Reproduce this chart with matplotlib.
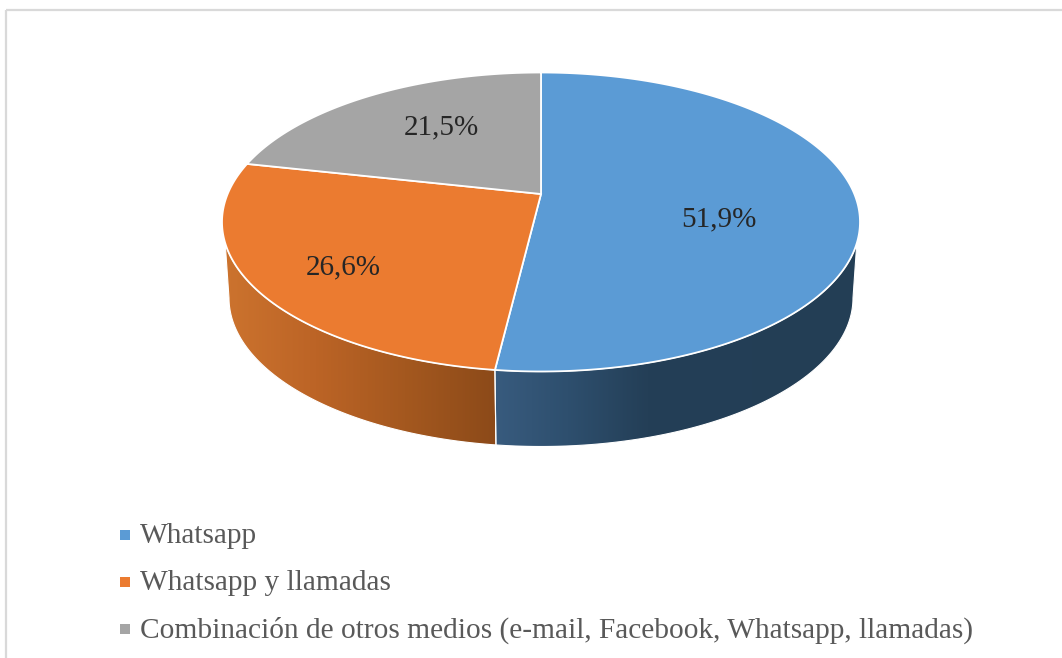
"""3D-looking pie chart of contact channels, drawn on a plain axes in pixel coords."""
import numpy as np
import matplotlib
matplotlib.use("Agg")
import matplotlib.pyplot as plt
from matplotlib.colors import LinearSegmentedColormap
from matplotlib.patches import Polygon, Rectangle

labels = ["Whatsapp", "Whatsapp y llamadas",
          "Combinación de otros medios (e-mail, Facebook, Whatsapp, llamadas)"]
shares = [51.9, 26.6, 21.5]
value_labels = ["51,9%", "26,6%", "21,5%"]
colors = ["#5B9BD5", "#EB7B30", "#A5A5A5"]

W, H = 1062, 658
CX, CY, RX, RY = 541, 222, 319, 149.5    # top ellipse
HUB_Y = 194                              # pie centre sits above ellipse centre (perspective)
TILT = 0.458
BOT_CY, BOT_RX, BOT_RY = 298, 312, 148.5 # bottom ellipse, a bit smaller
WALL_START = 98.1                        # where the side wall leaves the top rim

plt.rcParams["font.family"] = ["Liberation Serif", "DejaVu Serif"]
fig = plt.figure(figsize=(W / 100, H / 100), dpi=100)
ax = fig.add_axes([0, 0, 1, 1])
ax.set_xlim(0, W)
ax.set_ylim(H, 0)
ax.axis("off")

# outer chart frame
ax.add_patch(Rectangle((6, 10), 1100, 700, fill=False, ec="#D9D9D9", lw=1.6))


def rim_param(deg):
    # true pie angle -> parameter on the top ellipse, via a ray from the hub
    a = np.radians(deg)
    dx, dy = np.sin(a), -TILT * np.cos(a)
    off = HUB_Y - CY
    qa = (dx / RX) ** 2 + (dy / RY) ** 2
    qb = 2 * off * dy / RY ** 2
    qc = (off / RY) ** 2 - 1
    s = (-qb + np.sqrt(qb ** 2 - 4 * qa * qc)) / (2 * qa)
    x, y = dx * s, off + dy * s
    return np.degrees(np.arctan2(x / RX, -y / RY)) % 360


def top_xy(t):
    t = np.radians(t)
    return CX + RX * np.sin(t), CY - RY * np.cos(t)


def bottom_xy(t):
    t = np.radians(t)
    return CX + BOT_RX * np.sin(t), BOT_CY - BOT_RY * np.cos(t)


# slice boundaries from the data
edges = np.concatenate([[0], np.cumsum(shares) / np.sum(shares) * 360])
split = rim_param(edges[1])

# side walls
walls = [
    ((WALL_START, split), (90, split),
     LinearSegmentedColormap.from_list("b", [(0, "#385B7E"), (0.2, "#2E4F6E"), (0.42, "#243F57"), (1, "#233E55")])),
    ((split, 360 - WALL_START), (split, 270),
     LinearSegmentedColormap.from_list("o", ["#CC732E", "#BC6426", "#A4581F", "#8C4A19"])),
]
for (t0, t1), (b0, b1), cmap in walls:
    xt, yt = top_xy(np.linspace(t0, t1, 200))
    xb, yb = bottom_xy(np.linspace(b1, b0, 200))
    pts = np.column_stack([np.r_[xt, xb], np.r_[yt, yb]])
    poly = Polygon(pts, closed=True, fc="none", ec="none")
    ax.add_patch(poly)
    grad = np.linspace(0, 1, 256).reshape(1, -1)
    im = ax.imshow(grad, cmap=cmap, aspect="auto", zorder=1,
                   extent=[pts[:, 0].min(), pts[:, 0].max(), pts[:, 1].max(), pts[:, 1].min()])
    im.set_clip_path(poly)
    ax.add_patch(Polygon(pts, closed=True, fc="none", ec="white", lw=0.8, zorder=1.5))
ax.set_xlim(0, W)
ax.set_ylim(H, 0)

# top faces
for i, c in enumerate(colors):
    ts = [rim_param(a) for a in np.linspace(edges[i], edges[i + 1], 300)]
    xs, ys = top_xy(np.unwrap(ts, period=360))
    ax.add_patch(Polygon(np.column_stack([np.r_[CX, xs], np.r_[HUB_Y, ys]]), closed=True,
                         fc=c, ec="white", lw=1.3, zorder=2))

# value labels
label_pos = [(719, 219), (343, 267), (441, 127)]
for txt, (x, y) in zip(value_labels, label_pos):
    ax.text(x, y, txt, fontsize=21, color="#262626", ha="center", va="center", zorder=3)

# legend
legend_y = [535, 582, 629]
for lab, c, y in zip(labels, colors, legend_y):
    ax.add_patch(Rectangle((120, y - 5), 10, 10, fc=c, ec="none"))
    ax.text(140, y + 1, lab, fontsize=21.2, color="#595959", ha="left", va="center")

fig.savefig("out.png", dpi=100)
